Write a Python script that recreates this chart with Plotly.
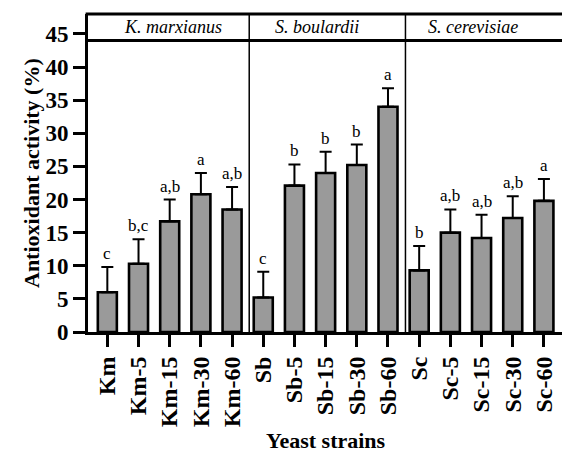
import plotly.graph_objects as go

strains = ["Km", "Km-5", "Km-15", "Km-30", "Km-60",
           "Sb", "Sb-5", "Sb-15", "Sb-30", "Sb-60",
           "Sc", "Sc-5", "Sc-15", "Sc-30", "Sc-60"]
activity = [6.0, 10.3, 16.7, 20.8, 18.5,
            5.2, 22.1, 24.0, 25.2, 34.0,
            9.3, 15.0, 14.2, 17.2, 19.8]
errors = [3.8, 3.7, 3.3, 3.2, 3.4,
          3.9, 3.2, 3.2, 3.1, 2.8,
          3.7, 3.5, 3.5, 3.3, 3.3]
letters = ["c", "b,c", "a,b", "a", "a,b",
           "c", "b", "b", "b", "a",
           "b", "a,b", "a,b", "a,b", "a"]
groups = ["K. marxianus", "S. boulardii", "S. cerevisiae"]
group_label_pos = [2.1, 6.72, 11.72]
dividers = [4.55, 9.56]

FONT = "Liberation Serif"
xs = list(range(len(strains)))

fig = go.Figure()
fig.add_trace(go.Bar(
    x=xs, y=activity, width=0.61,
    marker=dict(color="#9a9a9a", line=dict(color="black", width=2.6)),
    error_y=dict(type="data", symmetric=False, array=errors,
                 arrayminus=[0] * len(errors), color="black",
                 thickness=2, width=6),
    showlegend=False,
))

ann = []
for x, v, e, t in zip(xs, activity, errors, letters):
    ann.append(dict(x=x, y=v + e, text=t, showarrow=False, yanchor="bottom",
                    yshift=2, font=dict(family=FONT, size=17, color="black")))
for x, g in zip(group_label_pos, groups):
    ann.append(dict(x=x, y=46.0, text="<i>" + g + "</i>", showarrow=False,
                    xanchor="center", yanchor="middle",
                    font=dict(family=FONT, size=18, color="black")))
ann.append(dict(xref="paper", yref="paper", x=(31 - 88) / 474, y=0.5,
                xanchor="center", yanchor="middle",
                text="<b>Antioxidant activity (%)</b>", textangle=-90,
                showarrow=False, font=dict(family=FONT, size=22, color="black")))
ann.append(dict(xref="paper", yref="paper", x=(326 - 88) / 474,
                y=(332 - 440) / 318, xanchor="center", yanchor="middle",
                text="<b>Yeast strains</b>", showarrow=False,
                font=dict(family=FONT, size=22, color="black")))

shapes = [
    dict(type="line", xref="paper", yref="paper", x0=-0.005, x1=1, y0=1, y1=1,
         line=dict(color="black", width=3)),
    dict(type="line", xref="paper", yref="paper", x0=-0.005, x1=1,
         y0=44 / 48, y1=44 / 48, line=dict(color="black", width=3)),
]
for d in dividers:
    shapes.append(dict(type="line", xref="x", yref="paper", x0=d, x1=d,
                       y0=0, y1=1, line=dict(color="black", width=1.5)))

fig.update_layout(
    width=562, height=452,
    margin=dict(l=88, r=0, t=14, b=120),
    paper_bgcolor="white", plot_bgcolor="white",
    annotations=ann, shapes=shapes,
    xaxis=dict(range=[-0.62, 14.58], tickmode="array", tickvals=xs,
               ticktext=["<b>" + s + "</b>" for s in strains],
               tickangle=-90, ticks="outside", ticklen=12, tickwidth=3,
               tickcolor="black", showline=True, linecolor="black",
               linewidth=3, showgrid=False, zeroline=False,
               tickfont=dict(family=FONT, size=24, color="black")),
    yaxis=dict(range=[0, 48], tickmode="array",
               tickvals=[0, 5, 10, 15, 20, 25, 30, 35, 40, 45],
               ticktext=["<b>%d</b>" % v for v in [0, 5, 10, 15, 20, 25, 30, 35, 40, 45]],
               ticks="outside", ticklen=12, tickwidth=3, tickcolor="black",
               showline=True, linecolor="black", linewidth=3,
               showgrid=False, zeroline=False,
               tickfont=dict(family=FONT, size=23, color="black")),
)

fig.write_html("out.html", config={"displayModeBar": False},
               post_script="document.body.style.margin='0';")
